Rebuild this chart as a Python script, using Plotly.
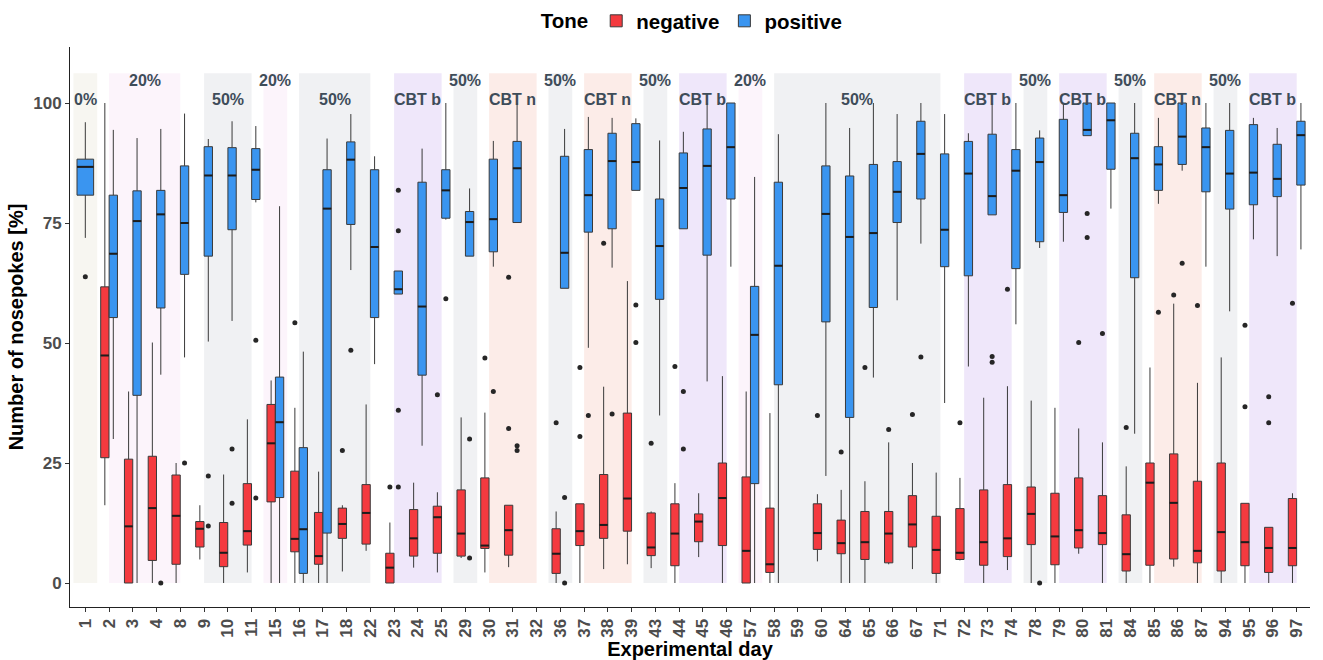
import plotly.graph_objects as go

# ---------------------------------------------------------------- data
DAYS = [1, 2, 3, 4, 8, 9, 10, 11, 15, 16, 17, 18, 22, 23, 24, 25, 29, 30, 31, 32,
        36, 37, 38, 39, 43, 44, 45, 46, 57, 58, 59, 60, 64, 65, 66, 67, 71, 72, 73, 74,
        78, 79, 80, 81, 84, 85, 86, 87, 94, 95, 96, 97]

# negative tone: lower whisker, Q1, median, Q3, upper whisker (None = no session)
NEG_LOW = [None, 16.2, 0, 0, 0, 4.9, 0, 2.2, 0, 0,
           0, 2.4, 6.7, 0, 3.2, 2.2, 5.2, 2.2, 3.3, None,
           0, 0, 2.9, 3.9, 3.1, 0, 5.4, 0, 0, 0,
           None, 4.5, 0, 0, 3.9, 2.9, 0, 4.7, 0, 2.7,
           0, 0, 6.1, 0, 0, 0, 3.4, 0, 0, 0,
           0, 0]
NEG_Q1 = [None, 26.1, 0, 4.7, 3.9, 7.5, 3.4, 7.9, 16.9, 6.5,
          3.9, 9.3, 8.1, 0, 5.6, 6.2, 5.6, 7.2, 5.8, None,
          2.0, 7.8, 9.3, 10.8, 5.7, 3.6, 8.6, 7.8, 0, 2.2,
          None, 7.0, 6.1, 4.9, 4.2, 7.5, 2.0, 4.9, 3.7, 5.5,
          8.0, 3.8, 7.3, 8.0, 2.5, 3.7, 5.0, 4.2, 2.5, 3.6,
          2.2, 3.6]
NEG_MED = [None, 47.4, 11.8, 15.6, 14.0, 11.3, 6.3, 10.8, 29.1, 9.2,
           5.6, 12.3, 14.6, 3.2, 9.3, 13.7, 10.3, 7.8, 11.0, None,
           6.1, 10.8, 12.1, 17.6, 7.4, 10.3, 12.8, 17.7, 6.7, 3.9,
           None, 10.4, 8.3, 8.5, 10.3, 12.2, 6.9, 6.3, 8.5, 9.3,
           14.4, 9.7, 11.0, 10.4, 6.0, 20.9, 16.7, 6.7, 10.6, 8.5,
           7.3, 7.3]
NEG_Q3 = [None, 61.7, 25.8, 26.4, 22.5, 12.8, 12.6, 20.7, 37.2, 23.3,
          14.7, 15.6, 20.5, 6.2, 15.3, 16.0, 19.4, 21.9, 16.2, None,
          11.3, 16.5, 22.6, 35.4, 14.6, 16.5, 14.4, 25.0, 22.1, 15.6,
          None, 16.5, 13.1, 14.9, 14.9, 18.2, 13.9, 15.5, 19.4, 20.5,
          20.0, 18.7, 21.9, 18.2, 14.2, 25.0, 26.9, 21.2, 25.0, 16.6,
          11.6, 17.6]
NEG_HIGH = [None, 100, 39.9, 50.1, 25.0, 16.2, 22.6, 34.1, 42.2, 36.5,
            23.2, 16.2, 37.2, 12.6, 20.9, 18.9, 34.5, 35.5, 16.2, None,
            14.9, 16.5, 40.9, 62.9, 14.9, 20.8, 18.7, 43.1, 39.9, 35.4,
            None, 18.5, 19.4, 21.2, 29.3, 25.0, 23.0, 21.9, 38.6, 41.0,
            38.0, 36.5, 32.2, 29.3, 24.3, 44.9, 58.2, 41.7, 47.0, 16.6,
            11.6, 18.7]

# positive tone
POS_LOW = [71.9, 30.0, 0, 43.4, 47.0, 50.3, 54.6, 79.3, 0, 0,
           0, 65.2, 45.6, 60.2, 28.6, 75.7, 68.1, 65.9, 75.1, None,
           61.4, 49.0, 65.7, 81.8, 34.9, 73.8, 42.0, 65.9, 0, 0,
           None, 22.3, 0, 42.8, 58.9, 70.7, 37.5, 45.1, 76.7, 53.9,
           69.8, 71.1, 93.2, 78.0, 31.1, 79.0, 85.9, 65.9, 56.6, 71.6,
           68.1, 69.5]
POS_Q1 = [80.8, 55.3, 39.1, 57.3, 64.3, 68.1, 73.6, 79.9, 17.8, 2.0,
          10.4, 74.7, 55.3, 60.2, 43.3, 76.0, 68.1, 69.0, 75.1, None,
          61.4, 73.1, 73.8, 81.8, 59.1, 73.8, 68.3, 80.0, 20.7, 41.3,
          None, 54.4, 34.5, 57.4, 75.1, 80.0, 65.9, 64.0, 76.7, 65.5,
          71.1, 77.2, 93.2, 86.2, 63.6, 81.8, 87.2, 81.5, 77.9, 78.8,
          80.5, 82.9]
POS_MED = [86.7, 68.6, 75.4, 76.8, 75.0, 84.9, 84.9, 86.1, 33.5, 11.2,
           78.0, 88.2, 70.0, 61.2, 57.6, 81.8, 75.2, 75.8, 86.4, None,
           68.8, 80.8, 87.9, 87.7, 70.2, 82.3, 86.9, 90.8, 51.7, 66.1,
           None, 76.9, 72.1, 72.9, 81.5, 89.4, 73.6, 85.3, 80.6, 85.9,
           87.7, 80.8, 94.4, 96.4, 88.5, 87.2, 93.0, 90.8, 85.3, 85.5,
           84.2, 93.3]
POS_Q3 = [88.3, 80.8, 81.7, 81.8, 86.9, 90.9, 90.7, 90.5, 42.9, 28.2,
          86.1, 91.9, 86.1, 65.0, 83.5, 86.1, 77.4, 88.3, 92.0, None,
          88.9, 90.3, 93.7, 95.7, 80.0, 89.6, 94.6, 100, 61.8, 83.5,
          None, 86.9, 84.8, 87.2, 87.8, 96.2, 89.4, 92.0, 93.5, 90.3,
          92.7, 96.6, 100, 100, 93.7, 90.9, 100, 94.8, 94.3, 95.5,
          91.4, 96.2]
POS_HIGH = [96.0, 94.4, 92.7, 94.6, 97.8, 92.5, 96.2, 95.2, 78.5, 48.2,
            92.6, 97.7, 88.9, 65.0, 90.5, 100, 82.2, 92.1, 100, None,
            94.6, 97.1, 96.9, 96.8, 92.2, 94.0, 100, 100, 84.6, 93.5,
            None, 100, 94.8, 100, 97.7, 100, 97.7, 93.7, 100, 100,
            94.3, 100, 100, 100, 100, 96.9, 100, 100, 100, 96.9,
            94.8, 100]

# outlying animals (day, value)
NEG_OUT_DAY = [16, 18, 23, 25, 30, 31, 31, 36, 37, 37, 38, 43, 44, 60, 64,
               65, 66, 67, 72, 74, 80, 81, 84, 86, 87, 95, 95, 96, 96, 97]
NEG_OUT_VAL = [54.2, 27.6, 20.0, 39.2, 46.9, 63.7, 32.2, 33.4, 44.9, 30.5, 70.8, 29.1, 45.1, 34.9, 27.3,
               44.9, 32.0, 35.1, 33.4, 61.2, 50.1, 52.0, 32.4, 60.0, 57.8, 53.7, 36.7, 38.8, 33.4, 58.3]
POS_OUT_DAY = [1, 4, 8, 9, 9, 10, 10, 11, 11, 18, 23, 23, 23, 23, 25, 29, 29, 30,
               31, 31, 36, 36, 37, 38, 39, 39, 44, 44, 67, 73, 73, 78, 80, 80, 85, 86]
POS_OUT_VAL = [63.8, 0, 25.0, 22.3, 11.9, 27.9, 16.6, 50.6, 17.7, 48.5, 81.8, 73.4, 36.0, 20.0, 59.2, 30.0, 5.2, 39.9,
               28.6, 27.6, 17.8, 0, 34.9, 35.2, 57.9, 50.1, 39.9, 27.9, 47.1, 47.2, 46.0, 0, 77.0, 72.0, 56.4, 66.6]

# experimental phases, spans given in category-slot units
BAND_LABELS = ["0%", "20%", "50%", "20%", "50%", "CBT b", "50%", "CBT n", "50%", "CBT n", "50%",
               "CBT b", "20%", "50%", "CBT b", "50%", "CBT b", "50%", "CBT n", "50%", "CBT b"]
BAND_START = [-0.5, 1, 5, 7.5, 9, 13, 15.5, 17, 19.5, 21, 23.5,
              25, 27.5, 29, 37, 39.5, 41, 43.5, 45, 47.5, 49]
BAND_END = [0.5, 4, 7, 8.5, 12, 15, 16.5, 19, 20.5, 23, 24.5,
            27, 28.5, 36, 39, 40.5, 43, 44.5, 47, 48.5, 51]

# ---------------------------------------------------------------- style
FONT = "Liberation Sans, Arial, sans-serif"
RED = "#F43A3F"
BLUE = "#3A95F0"
EDGE = "#3a3a3a"
BAND_FILL = {"0%": "#F7F6F1", "20%": "#FCF4FB", "50%": "#F0F1F3",
             "CBT b": "#EFE7FA", "CBT n": "#FCECE8"}
LABEL_RAISED = [False, True, False, True, False, False, True, False, True, False, True,
                False, True, False, False, True, False, True, False, True, False]
BAND_TOP = 106.2
BOX_W = 0.35
DODGE = 0.178

n = len(DAYS)
tones = {
    "negative": dict(low=NEG_LOW, q1=NEG_Q1, med=NEG_MED, q3=NEG_Q3, high=NEG_HIGH,
                     out_day=NEG_OUT_DAY, out_val=NEG_OUT_VAL, color=RED, side=-1),
    "positive": dict(low=POS_LOW, q1=POS_Q1, med=POS_MED, q3=POS_Q3, high=POS_HIGH,
                     out_day=POS_OUT_DAY, out_val=POS_OUT_VAL, color=BLUE, side=1),
}


def slot(i, side):
    """Dodged x position and width for a box in category slot i."""
    both = NEG_MED[i] is not None and POS_MED[i] is not None
    if both:
        return i + side * DODGE, BOX_W
    return float(i), 2 * BOX_W


fig = go.Figure()

for name, t in tones.items():
    groups = {}
    for i in range(n):
        if t["med"][i] is None:
            continue
        x, w = slot(i, t["side"])
        g = groups.setdefault(w, dict(x=[], low=[], q1=[], med=[], q3=[], high=[]))
        g["x"].append(x)
        for k in ("low", "q1", "med", "q3", "high"):
            g[k].append(t[k][i])
    first = True
    for w, g in groups.items():
        fig.add_trace(go.Box(
            x=g["x"], q1=g["q1"], median=g["med"], q3=g["q3"],
            lowerfence=g["low"], upperfence=g["high"],
            width=w, whiskerwidth=0, name=name, legendgroup=name,
            showlegend=first, fillcolor=t["color"],
            line=dict(color=EDGE, width=1), boxpoints=False, hoverinfo="skip",
        ))
        first = False
        # heavier median bars
        mx, my = [], []
        for x, m in zip(g["x"], g["med"]):
            mx += [x - w / 2, x + w / 2, None]
            my += [m, m, None]
        fig.add_trace(go.Scatter(x=mx, y=my, mode="lines", showlegend=False,
                                 line=dict(color="#1c1c1c", width=2), hoverinfo="skip"))
    ox, oy = [], []
    for d, v in zip(t["out_day"], t["out_val"]):
        i = DAYS.index(d)
        ox.append(slot(i, t["side"])[0])
        oy.append(v)
    fig.add_trace(go.Scatter(x=ox, y=oy, mode="markers", showlegend=False,
                             marker=dict(color="#262626", size=5), hoverinfo="skip"))

shapes = []
annotations = []
for lab, s, e, up in zip(BAND_LABELS, BAND_START, BAND_END, LABEL_RAISED):
    shapes.append(dict(type="rect", xref="x", yref="y", x0=s, x1=e, y0=0, y1=BAND_TOP,
                       fillcolor=BAND_FILL[lab], line=dict(width=0), layer="below"))
    annotations.append(dict(x=(s + e) / 2, y=104.7 if up else 100.8, xref="x", yref="y",
                            text=lab, showarrow=False, xanchor="center", yanchor="middle",
                            font=dict(family=FONT, size=16, color="#3E4C59", weight="bold")))

fig.update_layout(
    width=1323, height=660,
    margin=dict(l=70, r=13, t=47, b=53, autoexpand=False),
    plot_bgcolor="white", paper_bgcolor="white",
    shapes=shapes, annotations=annotations,
    boxmode="overlay",
    font=dict(family=FONT, weight="bold"),
    legend=dict(
        orientation="h", x=0.524, xanchor="center", xref="container",
        y=1 - 21 / 660, yanchor="middle", yref="container",
        title=dict(text="Tone", font=dict(family=FONT, size=20.5, color="black", weight="bold")),
        font=dict(family=FONT, size=20.5, color="black", weight="bold"),
        itemwidth=30, traceorder="normal",
    ),
    xaxis=dict(
        range=[-0.645, 51.56], tickmode="array", tickvals=list(range(n)),
        ticktext=[str(d) for d in DAYS], tickangle=-90, automargin=False,
        showgrid=False, zeroline=False, showline=True, linecolor="#222", linewidth=1,
        ticks="outside", ticklen=4, tickcolor="#333",
        tickfont=dict(family=FONT, size=17, color="#4D4D4D", weight="bold"),
        title=dict(text="Experimental day", standoff=6,
                   font=dict(family=FONT, size=20, color="black", weight="bold")),
    ),
    yaxis=dict(
        range=[-5.0, 111.67], tickvals=[0, 25, 50, 75, 100], automargin=False,
        showgrid=False, zeroline=False, showline=True, linecolor="#222", linewidth=1,
        ticks="outside", ticklen=4, tickcolor="#333",
        tickfont=dict(family=FONT, size=17, color="#4D4D4D", weight="bold"),
        title=dict(text="Number of nosepokes [%]", standoff=4,
                   font=dict(family=FONT, size=20, color="black", weight="bold")),
    ),
)

fig.write_html("out.html")
